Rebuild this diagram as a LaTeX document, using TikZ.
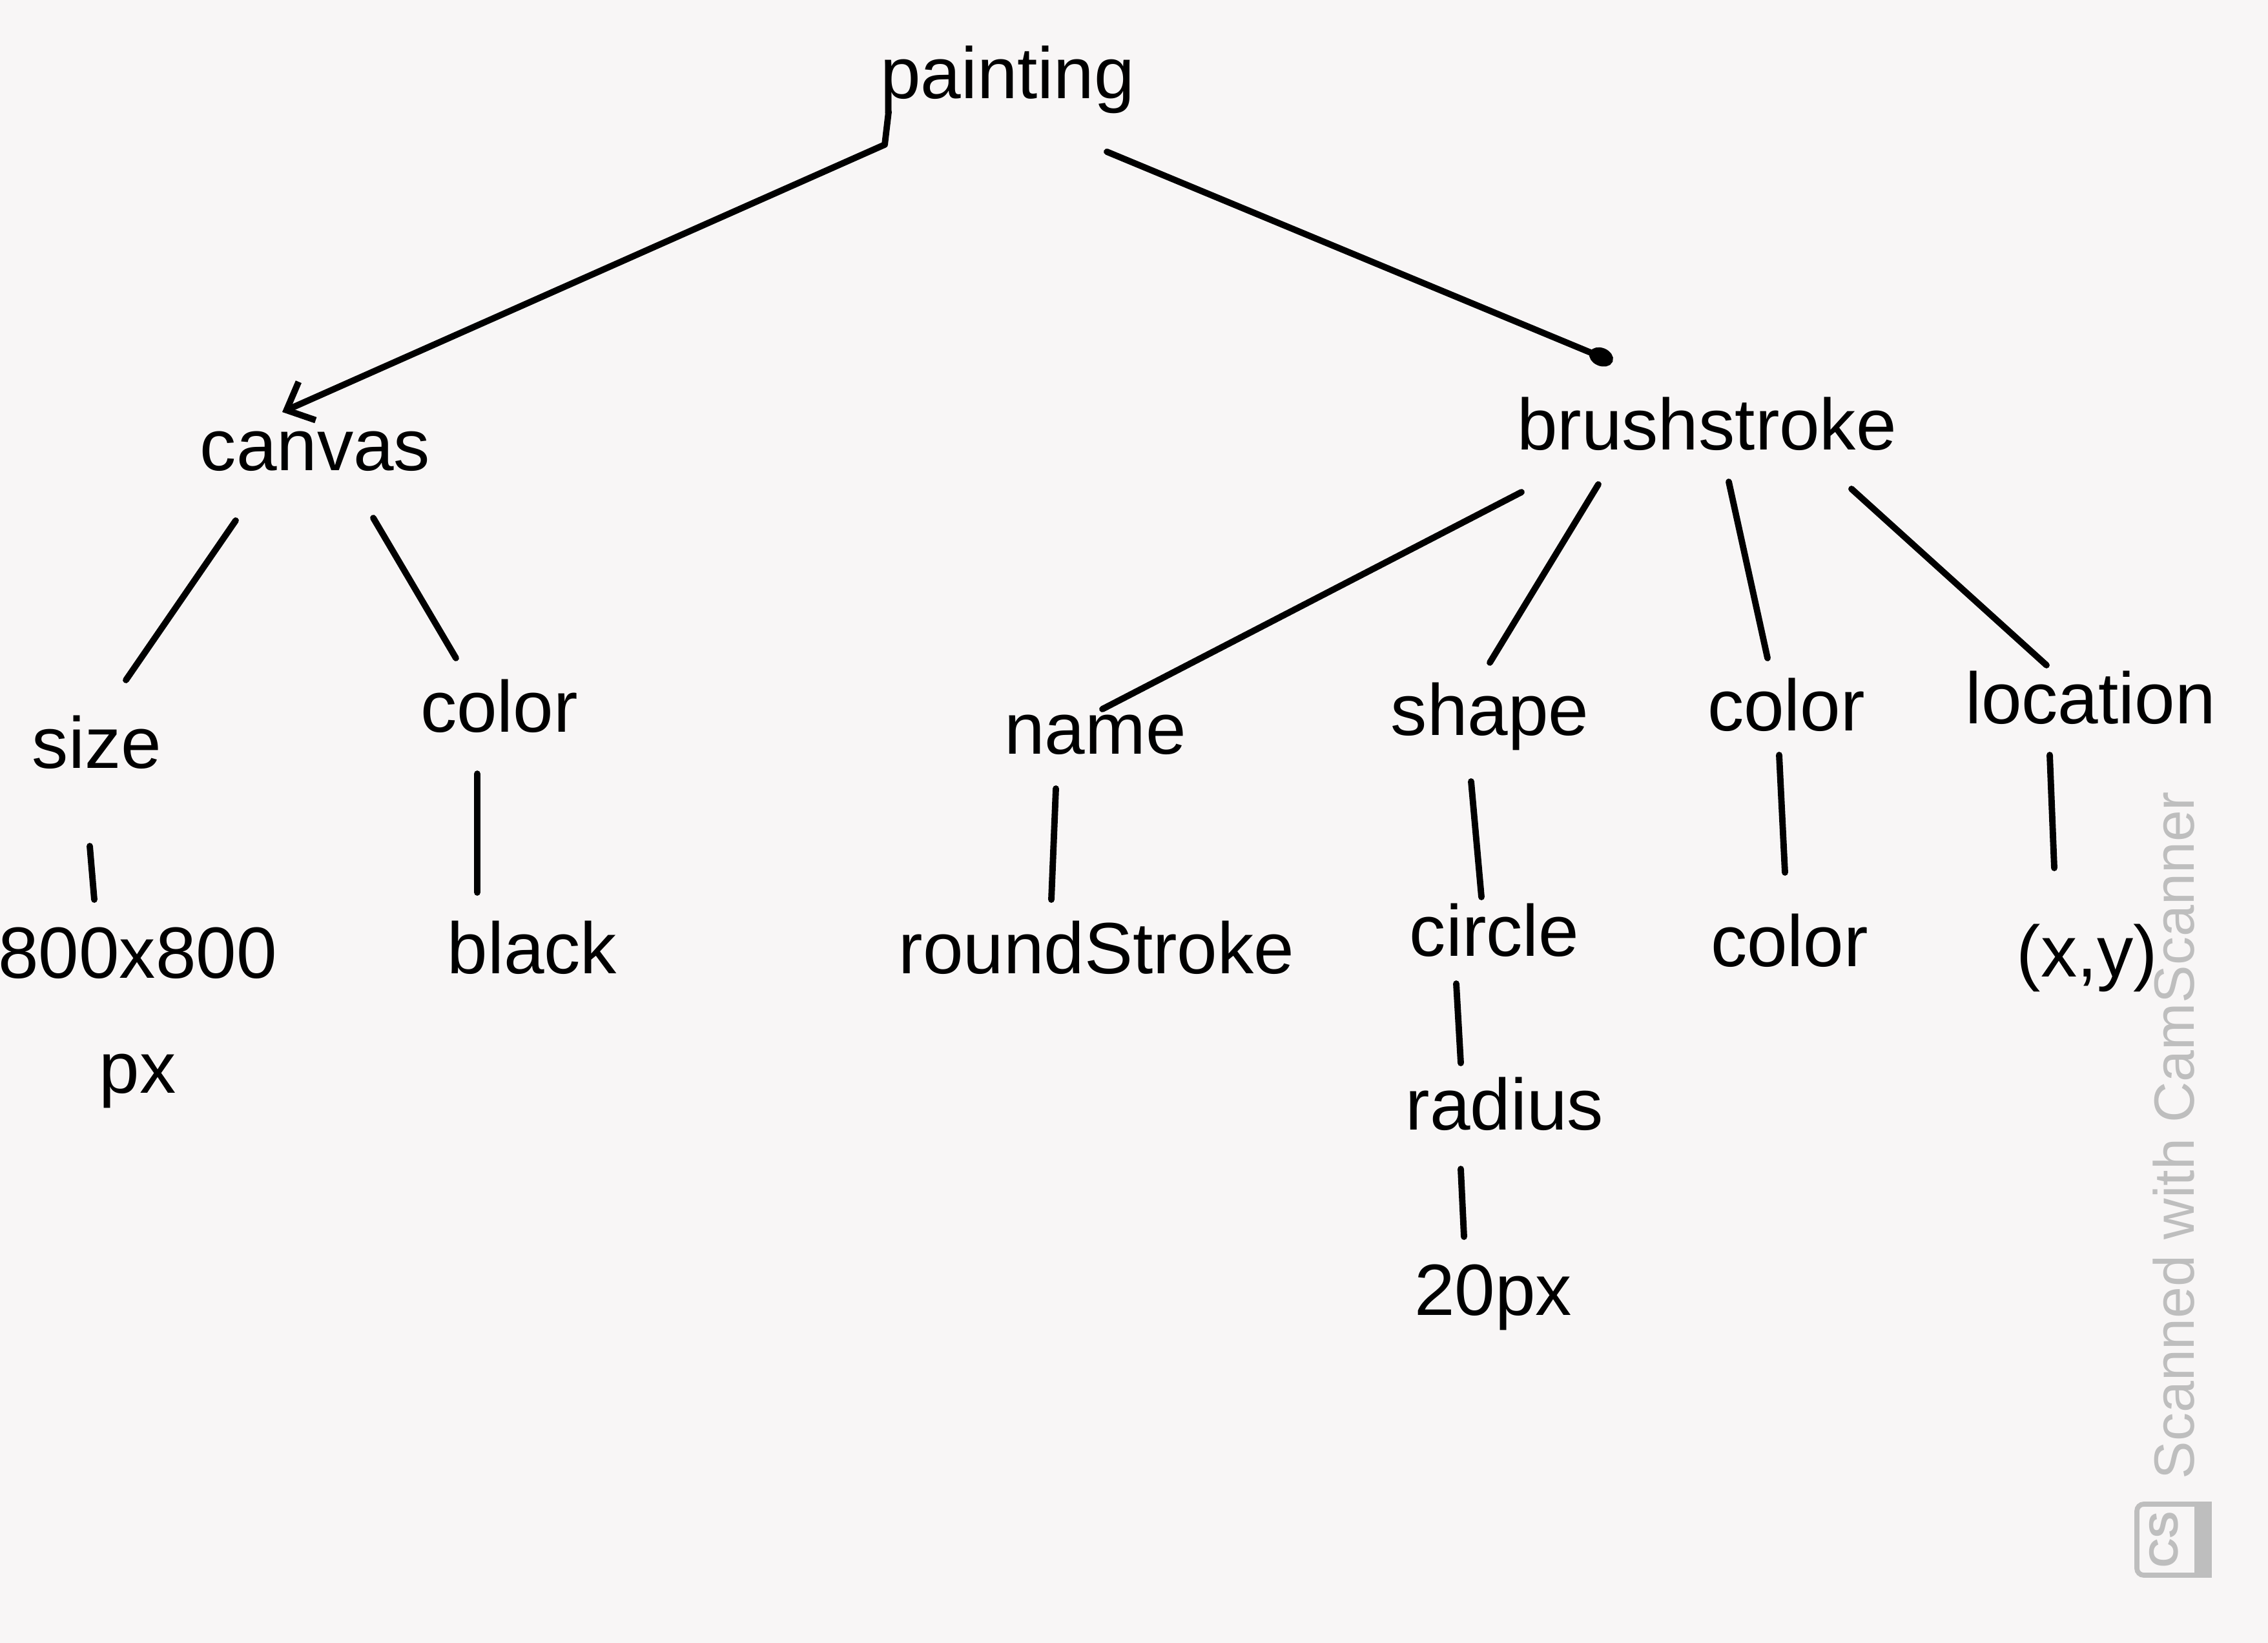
\documentclass[tikz,border=0pt]{standalone}
\usepackage{fontspec}
\setmainfont{Liberation Sans}
\usetikzlibrary{arrows.meta}
\definecolor{paper}{RGB}{248,246,246}
\definecolor{scanmark}{RGB}{190,190,190}
\newcommand{\hand}{\fontsize{32}{38}\selectfont}

\begin{document}
\begin{tikzpicture}[
    word/.style={font=\hand,inner sep=2pt},
    stroke/.style={line width=2.8pt,line cap=round,line join=round},
    arr/.style={stroke,-{Straight Barb[length=3.5mm,width=6.5mm]}},
    blob/.style={stroke,-{Circle[length=3.8mm,width=2.8mm]}}]
  \fill[paper] (0,0) rectangle (35.12,-25.44);
  \useasboundingbox (0,0) rectangle (35.12,-25.44);

  % top level
  \node[word] (painting) at (15.60,-1.23) {painting};
  \node[word] (canvas) at (4.88,-6.99) {canvas};
  \node[word] (brushstroke) at (26.43,-6.56) {brushstroke};
  \draw[arr] ([shift={(-1.84,-0.5)}]painting.center) -- ([shift={(-1.9,-1.01)}]painting.center)
    -- ([shift={(-0.51,0.61)}]canvas.center);
  \draw[blob] ([shift={(1.54,-1.12)}]painting.center) -- ([shift={(-1.46,0.96)}]brushstroke.center);

  % canvas side
  \node[word] (size) at (1.50,-11.49) {size};
  \node[word] (canvascolor) at (7.73,-10.93) {color};
  \node[word,align=center] (sizevalue) at (2.13,-15.76) {800x800\\[0.45cm]px};
  \node[word] (black) at (8.24,-14.67) {black};
  \draw[stroke] ([shift={(-1.23,-1.07)}]canvas.center) -- ([shift={(0.45,0.96)}]size.center);
  \draw[stroke] ([shift={(0.90,-1.03)}]canvas.center) -- ([shift={(-0.67,0.74)}]canvascolor.center);
  \draw[stroke] ([shift={(-0.11,-1.61)}]size.center) -- ([shift={(-0.67,1.83)}]sizevalue.center);
  \draw[stroke] ([shift={(-0.34,-1.05)}]canvascolor.center) -- ([shift={(-0.85,0.85)}]black.center);

  % brushstroke side
  \node[word] (name) at (16.96,-11.38) {name};
  \node[word] (shape) at (23.07,-11.09) {shape};
  \node[word] (brushcolor) at (27.66,-10.91) {color};
  \node[word] (location) at (32.37,-10.80) {location};
  \node[word] (roundstroke) at (16.98,-14.67) {roundStroke};
  \node[word] (circleval) at (23.14,-14.40) {circle};
  \node[word] (colorval) at (27.71,-14.56) {color};
  \node[word] (xy) at (32.32,-14.83) {(x,y)};
  \node[word] (radius) at (23.30,-17.09) {radius};
  \node[word] (radiusval) at (23.12,-20.09) {20px};
  \draw[stroke] ([shift={(-2.87,-1.06)}]brushstroke.center) -- ([shift={(0.11,0.40)}]name.center);
  \draw[stroke] ([shift={(-1.68,-0.94)}]brushstroke.center) -- ([shift={(0,0.83)}]shape.center);
  \draw[stroke] ([shift={(0.34,-0.90)}]brushstroke.center) -- ([shift={(-0.29,0.72)}]brushcolor.center);
  \draw[stroke] ([shift={(2.24,-1.01)}]brushstroke.center) -- ([shift={(-0.68,0.50)}]location.center);
  \draw[stroke] ([shift={(-0.61,-0.83)}]name.center) -- ([shift={(-0.70,0.74)}]roundstroke.center);
  \draw[stroke] ([shift={(-0.29,-1.01)}]shape.center) -- ([shift={(-0.20,0.51)}]circleval.center);
  \draw[stroke] ([shift={(-0.59,-0.83)}]circleval.center) -- ([shift={(-0.68,0.63)}]radius.center);
  \draw[stroke] ([shift={(-0.68,-1.01)}]radius.center) -- ([shift={(-0.45,0.94)}]radiusval.center);
  \draw[stroke] ([shift={(-0.11,-0.78)}]brushcolor.center) -- ([shift={(-0.07,1.05)}]colorval.center);
  \draw[stroke] ([shift={(-0.63,-0.89)}]location.center) -- ([shift={(-0.51,1.39)}]xy.center);

  % scanner watermark
  \node[font=\fontsize{25}{30}\selectfont,text=scanmark,rotate=90] (scanned)
    at (33.66,-17.58) {Scanned with CamScanner};
  \node[draw=scanmark,line width=2.2pt,rounded corners=3pt,
        minimum width=1.12cm,minimum height=1.1cm] (logo) at (33.65,-23.84) {};
  \fill[scanmark] ([xshift=-0.27cm]logo.north east) rectangle (logo.south east);
  \node[rotate=90,text=scanmark,font=\bfseries\fontsize{18}{18}\selectfont]
    (logotext) at ([xshift=-0.14cm]logo.center) {CS};
\end{tikzpicture}
\end{document}
